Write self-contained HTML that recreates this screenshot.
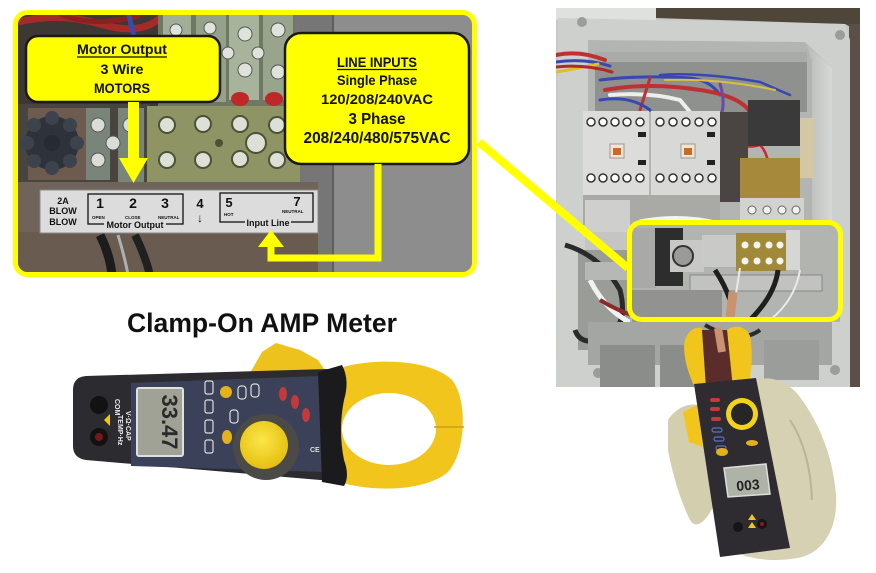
<!DOCTYPE html>
<html><head><meta charset="utf-8"><style>
html,body{margin:0;padding:0;background:#fff;}
svg{display:block;}
text{font-family:"Liberation Sans",sans-serif;font-weight:bold;}
</style></head><body>
<svg width="876" height="573" viewBox="0 0 876 573" xmlns="http://www.w3.org/2000/svg">
<defs>
<clipPath id="lp"><rect x="15" y="12" width="460" height="263" rx="12"/></clipPath>
<clipPath id="rp"><rect x="556" y="8" width="304" height="379"/></clipPath>
<radialGradient id="dialY" cx="0.45" cy="0.4" r="0.6"><stop offset="0" stop-color="#fbe64a"/><stop offset="1" stop-color="#e5c010"/></radialGradient>
<linearGradient id="wallR" x1="0" y1="0" x2="1" y2="0"><stop offset="0" stop-color="#b8bbb7"/><stop offset="1" stop-color="#d6d9d5"/></linearGradient>
</defs>
<rect width="876" height="573" fill="#fff"/>

<!-- ================= LEFT PANEL PHOTO ================= -->
<g clip-path="url(#lp)">
  <rect x="15" y="12" width="460" height="263" fill="#5a524a"/>
  <rect x="15" y="12" width="150" height="95" fill="#3d3834"/>
  <path d="M18 22 Q60 12 100 24 T160 18" stroke="#a52a2a" stroke-width="7" fill="none"/>
  <path d="M60 14 Q90 28 140 16" stroke="#8a2020" stroke-width="5" fill="none"/>
  <path d="M128 12 L134 36" stroke="#3a4aa8" stroke-width="5"/>
  <rect x="158" y="12" width="137" height="94" fill="#6f7863"/>
  <rect x="163" y="12" width="28" height="90" fill="#a3ae97"/>
  <rect x="196" y="12" width="30" height="90" fill="#95a189"/>
  <rect x="229" y="12" width="30" height="88" fill="#a7b39b"/>
  <rect x="263" y="12" width="30" height="88" fill="#98a48c"/>
  <g fill="#dfe3dc" stroke="#555" stroke-width="1">
    <circle cx="176" cy="30" r="6"/><circle cx="210" cy="28" r="6"/>
    <circle cx="245" cy="34" r="7"/><circle cx="278" cy="30" r="7"/>
    <circle cx="228" cy="53" r="6"/><circle cx="258" cy="53" r="6"/>
    <circle cx="245" cy="70" r="7"/><circle cx="278" cy="72" r="7"/>
  </g>
  <ellipse cx="240" cy="99" rx="9" ry="7" fill="#c02828"/>
  <ellipse cx="274" cy="99" rx="9" ry="7" fill="#c02828"/>
  <rect x="295" y="12" width="180" height="263" fill="#8d8d8d"/>
  <rect x="295" y="12" width="38" height="263" fill="#767676"/>
  <line x1="333" y1="12" x2="333" y2="275" stroke="#5e5e5e" stroke-width="2"/>
  <rect x="15" y="104" width="135" height="82" fill="#4a4440"/>
  <rect x="28" y="108" width="58" height="72" fill="#6d5b4f"/>
  <circle cx="52" cy="143" r="27" fill="#2e333b"/>
  <g fill="#3d434c">
    <circle cx="52" cy="118" r="7"/><circle cx="52" cy="168" r="7"/>
    <circle cx="27" cy="143" r="7"/><circle cx="77" cy="143" r="7"/>
    <circle cx="34" cy="125" r="7"/><circle cx="70" cy="125" r="7"/>
    <circle cx="34" cy="161" r="7"/><circle cx="70" cy="161" r="7"/>
  </g>
  <circle cx="52" cy="143" r="8" fill="#262a31"/>
  <rect x="86" y="108" width="24" height="72" fill="#7a857a"/>
  <rect x="118" y="108" width="26" height="74" fill="#7a857a"/>
  <g fill="#d9ddd6" stroke="#555" stroke-width="1">
    <circle cx="98" cy="125" r="7"/><circle cx="98" cy="160" r="7"/>
    <circle cx="113" cy="143" r="7"/><circle cx="130" cy="125" r="7"/>
  </g>
  <rect x="147" y="106" width="153" height="76" fill="#8e9463"/>
  <g fill="#dde0d6" stroke="#4d5236" stroke-width="2">
    <circle cx="167" cy="125" r="8"/><circle cx="203" cy="124" r="8"/><circle cx="240" cy="124" r="8"/><circle cx="277" cy="125" r="8"/>
    <circle cx="167" cy="160" r="8"/><circle cx="203" cy="160" r="8"/><circle cx="240" cy="159" r="8"/><circle cx="277" cy="160" r="8"/>
    <circle cx="256" cy="143" r="10"/>
  </g>
  <circle cx="219" cy="143" r="4" fill="#4d5236"/>
  <rect x="15" y="182" width="303" height="93" fill="#70645a"/>
  <rect x="15" y="232" width="303" height="43" fill="#695b50"/>
  <path d="M100 235 Q110 255 112 275" stroke="#1c1c1c" stroke-width="9" fill="none"/>
  <path d="M135 235 Q145 255 150 275" stroke="#202020" stroke-width="8" fill="none"/>
  <path d="M118 235 Q125 258 128 275" stroke="#b0b0b0" stroke-width="3" fill="none"/>
  <rect x="40" y="190" width="278" height="43" fill="#dcdcdc" stroke="#8a8a8a" stroke-width="1"/>
  <g fill="#111">
    <text x="63" y="204" font-size="9" text-anchor="middle">2A</text>
    <text x="63" y="214" font-size="9" text-anchor="middle">BLOW</text>
    <text x="63" y="225" font-size="9" text-anchor="middle">BLOW</text>
    <rect x="88" y="194" width="95" height="30" fill="none" stroke="#111" stroke-width="1.3"/>
    <text x="100" y="208" font-size="14" text-anchor="middle">1</text>
    <text x="133" y="208" font-size="14" text-anchor="middle">2</text>
    <text x="165" y="208" font-size="14" text-anchor="middle">3</text>
    <text x="92" y="219" font-size="4.5">OPEN</text>
    <text x="125" y="219" font-size="4.5">CLOSE</text>
    <text x="158" y="219" font-size="4.5">NEUTRAL</text>
    <rect x="104" y="220" width="62" height="8" fill="#dcdcdc"/>
    <text x="135" y="228" font-size="9" text-anchor="middle">Motor Output</text>
    <text x="200" y="208" font-size="13" text-anchor="middle">4</text>
    <text x="200" y="222" font-size="12" text-anchor="middle">↓</text>
    <rect x="220" y="193" width="93" height="29" fill="none" stroke="#111" stroke-width="1.3"/>
    <text x="229" y="207" font-size="13" text-anchor="middle">5</text>
    <text x="297" y="206" font-size="13" text-anchor="middle">7</text>
    <text x="224" y="216" font-size="4.5">HOT</text>
    <text x="282" y="213" font-size="4.5">NEUTRAL</text>
    <rect x="245" y="217" width="46" height="8" fill="#dcdcdc"/>
    <text x="268" y="226" font-size="9" text-anchor="middle">Input Line</text>
  </g>
</g>
<rect x="15.5" y="12.5" width="459" height="262" rx="12" fill="none" stroke="#ffff00" stroke-width="5"/>

<!-- Motor Output callout -->
<rect x="26" y="36" width="194" height="66" rx="12" fill="#ffff00" stroke="#1a1a1a" stroke-width="2.5"/>
<text x="122" y="54" font-size="14" text-anchor="middle" textLength="90" lengthAdjust="spacingAndGlyphs" fill="#111">Motor Output</text>
<line x1="77" y1="57" x2="167" y2="57" stroke="#111" stroke-width="1.2"/>
<text x="122" y="74" font-size="14" text-anchor="middle" textLength="43" lengthAdjust="spacingAndGlyphs" fill="#111">3 Wire</text>
<text x="122" y="93" font-size="14" text-anchor="middle" textLength="56" lengthAdjust="spacingAndGlyphs" fill="#111">MOTORS</text>

<rect x="128" y="102" width="11" height="58" fill="#ffff00"/>
<polygon points="119,158 148,158 133.5,183" fill="#ffff00"/>

<!-- Line Inputs callout -->
<rect x="285" y="33" width="184" height="131" rx="16" fill="#ffff00" stroke="#1a1a1a" stroke-width="2.5"/>
<g fill="#111">
<text x="377" y="67" font-size="14" text-anchor="middle" textLength="80" lengthAdjust="spacingAndGlyphs">LINE INPUTS</text>
<line x1="337" y1="69.5" x2="417" y2="69.5" stroke="#111" stroke-width="1.2"/>
<text x="377" y="85" font-size="14" text-anchor="middle" textLength="80" lengthAdjust="spacingAndGlyphs">Single Phase</text>
<text x="377" y="104" font-size="14" text-anchor="middle" textLength="112" lengthAdjust="spacingAndGlyphs">120/208/240VAC</text>
<text x="377" y="124" font-size="16" text-anchor="middle" textLength="57" lengthAdjust="spacingAndGlyphs">3 Phase</text>
<text x="377" y="143" font-size="16" text-anchor="middle" textLength="147" lengthAdjust="spacingAndGlyphs">208/240/480/575VAC</text>
</g>

<polyline points="378,164 378,258 271,258 271,244" fill="none" stroke="#ffff00" stroke-width="7"/>
<polygon points="258,247 284,247 271,230" fill="#ffff00"/>

<!-- ================= RIGHT ENCLOSURE PHOTO ================= -->
<g clip-path="url(#rp)">
  <rect x="556" y="8" width="304" height="379" fill="#c6c9c5"/>
  <polygon points="655,8 860,8 860,32 845,24 655,18" fill="#4f463a"/>
  <rect x="849" y="24" width="11" height="363" fill="#5a5048"/>
  <rect x="556" y="8" width="100" height="12" fill="#dfe1de"/>
  <path d="M558 18 L845 24 L850 40 L850 387 L556 387 Z" fill="#cdd0cc"/>
  <circle cx="582" cy="22" r="5" fill="#9a9d99"/><circle cx="840" cy="35" r="5" fill="#9a9d99"/>
  <circle cx="598" cy="373" r="5" fill="#9a9d99"/><circle cx="835" cy="370" r="5" fill="#9a9d99"/>
  <polygon points="588,40 805,42 832,68 832,365 588,365" fill="#b2b5b1"/>
  <polygon points="806,44 832,68 832,365 812,355 812,60" fill="url(#wallR)"/>
  <rect x="595" y="52" width="212" height="60" fill="#8f918e"/>
  <rect x="595" y="52" width="212" height="10" fill="#a9aba8"/>
  <g fill="none" stroke-linecap="round">
    <path d="M556 55 Q580 50 605 60" stroke="#c03030" stroke-width="4"/>
    <path d="M556 62 Q585 58 610 66" stroke="#3848b0" stroke-width="3"/>
    <path d="M556 72 Q580 68 598 64" stroke="#e0c020" stroke-width="3"/>
    <path d="M556 67 Q585 64 612 72" stroke="#b02828" stroke-width="3"/>
    <path d="M600 80 Q640 75 690 78 Q710 80 720 95" stroke="#3848b0" stroke-width="3"/>
    <path d="M605 90 Q650 82 700 90 Q740 96 750 112" stroke="#c03030" stroke-width="4"/>
    <path d="M610 95 Q650 92 680 100 L690 112" stroke="#eeeeee" stroke-width="4"/>
    <path d="M660 75 Q700 72 760 82 L790 95" stroke="#3848b0" stroke-width="2.5"/>
    <path d="M665 80 Q720 78 775 90" stroke="#d8c040" stroke-width="2"/>
    <path d="M650 78 L640 110" stroke="#c03030" stroke-width="3"/>
    <path d="M720 84 Q725 100 722 112" stroke="#6a4aa8" stroke-width="3"/>
    <path d="M600 100 Q630 95 650 110" stroke="#3848b0" stroke-width="3"/>
    <path d="M735 140 Q745 150 760 145 Q770 155 768 175" stroke="#c03030" stroke-width="2.5"/>
  </g>
  <rect x="583" y="111" width="66" height="84" fill="#dcdcda"/>
  <rect x="651" y="111" width="69" height="84" fill="#d8d8d6"/>
  <g fill="#fff" stroke="#333" stroke-width="1.5">
    <circle cx="591" cy="122" r="4"/><circle cx="603" cy="122" r="4"/><circle cx="615" cy="122" r="4"/><circle cx="627" cy="122" r="4"/><circle cx="640" cy="122" r="4"/>
    <circle cx="660" cy="122" r="4"/><circle cx="673" cy="122" r="4"/><circle cx="686" cy="122" r="4"/><circle cx="699" cy="122" r="4"/><circle cx="712" cy="122" r="4"/>
    <circle cx="591" cy="178" r="4"/><circle cx="603" cy="178" r="4"/><circle cx="615" cy="178" r="4"/><circle cx="627" cy="178" r="4"/><circle cx="640" cy="178" r="4"/>
    <circle cx="660" cy="178" r="4"/><circle cx="673" cy="178" r="4"/><circle cx="686" cy="178" r="4"/><circle cx="699" cy="178" r="4"/><circle cx="712" cy="178" r="4"/>
  </g>
  <rect x="610" y="144" width="14" height="14" fill="#f0e6d0" stroke="#999"/>
  <rect x="613" y="148" width="8" height="7" fill="#c86a2a"/>
  <rect x="681" y="144" width="14" height="14" fill="#f0e6d0" stroke="#999"/>
  <rect x="684" y="148" width="8" height="7" fill="#c86a2a"/>
  <rect x="638" y="132" width="8" height="5" fill="#222"/><rect x="638" y="160" width="8" height="5" fill="#222"/>
  <rect x="707" y="132" width="8" height="5" fill="#222"/><rect x="707" y="160" width="8" height="5" fill="#222"/>
  <rect x="720" y="112" width="28" height="90" fill="#4a4542"/>
  <rect x="748" y="100" width="52" height="46" fill="#3a3a3a"/>
  <rect x="800" y="118" width="14" height="60" fill="#d4c8a4"/>
  <rect x="740" y="158" width="60" height="46" fill="#a6893a"/>
  <rect x="740" y="198" width="64" height="32" fill="#d2d2ce"/>
  <g fill="#f2f2f2" stroke="#666" stroke-width="1">
    <circle cx="752" cy="210" r="4"/><circle cx="767" cy="210" r="4"/><circle cx="782" cy="210" r="4"/><circle cx="796" cy="210" r="4"/>
  </g>
  <rect x="583" y="195" width="137" height="30" fill="#a9aaa6"/>
  <rect x="585" y="200" width="45" height="35" fill="#cfcfcd"/>
  <path d="M640 222 Q680 214 720 224" stroke="#f4f4f4" stroke-width="5" fill="none"/>
  <rect x="585" y="232" width="42" height="20" fill="#c5c5c3"/>
  <rect x="578" y="250" width="53" height="100" fill="#9a9c98"/>
  <path d="M565 245 Q600 255 620 290 Q630 330 600 340 Q580 345 575 330" stroke="#2a2a2a" stroke-width="5" fill="none"/>
  <path d="M590 280 Q610 320 650 330 Q700 345 720 320" stroke="#f2f2f2" stroke-width="5" fill="none"/>
  <path d="M600 300 Q640 325 690 322" stroke="#8a2a2a" stroke-width="4" fill="none"/>
  <rect x="585" y="262" width="45" height="18" fill="#b7b8b5"/>
  <rect x="630" y="225" width="210" height="97" fill="#b2b4b0"/>
  <rect x="632" y="228" width="24" height="60" fill="#a9aaa7"/>
  <rect x="655" y="228" width="28" height="58" fill="#2d2d2d"/>
  <rect x="670" y="240" width="34" height="32" fill="#c8c8c6"/>
  <circle cx="683" cy="256" r="10" fill="#9a9a98" stroke="#333" stroke-width="2"/>
  <rect x="702" y="235" width="34" height="32" fill="#c9cac7"/>
  <rect x="736" y="233" width="50" height="38" fill="#a08a3a"/>
  <g fill="#f4f4f2">
    <circle cx="745" cy="245" r="3.5"/><circle cx="757" cy="245" r="3.5"/><circle cx="769" cy="245" r="3.5"/><circle cx="780" cy="245" r="3.5"/>
    <circle cx="745" cy="261" r="3.5"/><circle cx="757" cy="261" r="3.5"/><circle cx="769" cy="261" r="3.5"/><circle cx="780" cy="261" r="3.5"/>
  </g>
  <rect x="786" y="230" width="14" height="40" fill="#d6d6d4"/>
  <rect x="690" y="275" width="132" height="16" fill="#c2c2c0" stroke="#888" stroke-width="1"/>
  <rect x="632" y="290" width="90" height="32" fill="#929290"/>
  <path d="M715 270 Q725 285 730 300" stroke="#1e1e1e" stroke-width="5" fill="none"/>
  <path d="M778 270 Q775 295 750 320" stroke="#1e1e1e" stroke-width="5" fill="none"/>
  <path d="M800 270 Q795 300 770 320" stroke="#eaeaea" stroke-width="2" fill="none"/>
  <path d="M740 268 L735 300" stroke="#eaeaea" stroke-width="2" fill="none"/>
  <path d="M733 292 L727 345" stroke="#c99270" stroke-width="9" fill="none"/>
  <rect x="588" y="322" width="244" height="43" fill="#a3a6a2"/>
  <rect x="600" y="345" width="55" height="42" fill="#8a8d89"/>
  <rect x="660" y="345" width="55" height="42" fill="#8a8d89"/>
  <rect x="764" y="340" width="55" height="40" fill="#9a9d99"/>
  <path d="M705 325 Q740 345 760 330" stroke="#2a2a2a" stroke-width="4" fill="none"/>
</g>

<line x1="479" y1="142" x2="628" y2="268" stroke="#ffff00" stroke-width="8"/>
<rect x="629.5" y="222.5" width="211" height="97" rx="12" fill="none" stroke="#ffff00" stroke-width="5"/>

<!-- ================= HAND + METER ================= -->
<path d="M752 382 C770 372 792 384 802 400 C818 422 833 455 836 495 C838 525 826 550 802 557 C780 562 760 560 745 556 L725 548 Z" fill="#d5d1b2"/>
<path d="M668 420 C678 404 698 400 706 410 L714 505 C706 522 696 530 690 520 C680 500 672 472 668 450 Z" fill="#d3cfae"/>
<path d="M790 420 Q810 450 812 500" stroke="#b9b497" stroke-width="2" fill="none"/>
<path d="M684 345 C686 332 694 326 702 328 L707 360 L712 386 L697 392 C690 378 684 362 684 345 Z" fill="#f2c51c"/>
<path d="M727 330 C735 324 746 326 750 336 C753 350 752 372 748 388 L733 388 L730 360 Z" fill="#f2c51c"/>
<path d="M702 330 L727 330 L733 388 L706 388 Z" fill="#5a2c2a"/>
<path d="M718 328 L722 352" stroke="#c99270" stroke-width="8"/>
<path d="M694 384 L756 378 L790 548 L720 557 Z" fill="#2e2b31"/>
<polygon points="683,412 697,405 703,447 689,442" fill="#f2c51c"/>
<circle cx="742" cy="414" r="16" fill="#f2d21a"/>
<circle cx="742" cy="414" r="11" fill="#262626"/>
<g fill="#c23a3a"><rect x="710" y="398" width="10" height="4" rx="2"/><rect x="710" y="407" width="10" height="4" rx="2"/><rect x="711" y="417" width="10" height="4" rx="2"/></g>
<g fill="none" stroke="#5a72c8" stroke-width="1.2"><rect x="712" y="428" width="10" height="4" rx="2"/><rect x="714" y="437" width="10" height="4" rx="2"/><rect x="716" y="446" width="10" height="4" rx="2"/></g>
<ellipse cx="722" cy="452" rx="6" ry="4" fill="#e3b11c"/>
<ellipse cx="752" cy="443" rx="6" ry="3" fill="#e3b11c"/>
<polygon points="724,468 766,464 770,494 728,497" fill="#aeb3a8" stroke="#ddd" stroke-width="1.5"/>
<text x="748" y="490" font-size="14" text-anchor="middle" fill="#222" transform="rotate(-5 748 485)">003</text>
<circle cx="738" cy="527" r="5" fill="#151515"/>
<circle cx="762" cy="524" r="5" fill="#151515"/><circle cx="762" cy="524" r="2" fill="#8a1a1a"/>
<polygon points="748,520 752,514 756,520" fill="#f2c51c"/>
<polygon points="748,528 752,522 756,528" fill="#f2c51c"/>

<!-- ================= LEFT CLAMP METER ================= -->
<text x="127" y="332" font-size="27" textLength="270" lengthAdjust="spacingAndGlyphs" fill="#111">Clamp-On AMP Meter</text>
<polygon points="250,373 262,352 276,343 300,350 318,360 326,372" fill="#eec21c"/>
<path d="M86 376 L328 369 L332 481 L86 460 Q73 458 73 446 L73 390 Q73 377 86 376 Z" fill="#2c2b30"/>
<path d="M131 383 L320 376 L322 472 L131 466 Z" fill="#3b4159"/>
<path d="M340 368 C370 358 430 358 452 380 C468 400 466 452 448 472 C425 492 370 492 340 482 Z" fill="#f1c51c"/>
<ellipse cx="389" cy="429" rx="47" ry="36" fill="#fff"/>
<line x1="434" y1="427" x2="464" y2="427" stroke="#c9a21a" stroke-width="1.5"/>
<path d="M318 372 L342 365 Q350 380 344 400 Q338 430 344 460 Q350 476 344 486 L322 482 Z" fill="#1b1b1d"/>
<rect x="137" y="388" width="46" height="68" fill="#9fa294" stroke="#e0e0e0" stroke-width="2" rx="2"/>
<text x="160" y="420" font-size="22" fill="#2a2a2a" text-anchor="middle" transform="rotate(90 160 422)">33.47</text>
<circle cx="266" cy="447" r="33" fill="#4b4a46"/>
<circle cx="264" cy="445" r="24" fill="url(#dialY)"/>
<circle cx="99" cy="405" r="9" fill="#121212"/>
<circle cx="99" cy="437" r="9" fill="#121212"/><circle cx="99" cy="437" r="4" fill="#7a1818"/>
<polygon points="104,420 110,414 110,426" fill="#f2c51c"/>
<text x="115" y="399" font-size="7" fill="#eee" transform="rotate(90 115 399)">COM</text>
<text x="126" y="411" font-size="7" fill="#eee" transform="rotate(90 126 411)">V·Ω·CAP</text>
<text x="118" y="415" font-size="7" fill="#eee" transform="rotate(90 118 415)">TEMP·Hz</text>
<g fill="none" stroke="#ddd" stroke-width="1.2">
  <rect x="205" y="381" width="8" height="13" rx="2"/><rect x="205" y="400" width="8" height="13" rx="2"/>
  <rect x="205" y="420" width="8" height="13" rx="2"/><rect x="205" y="440" width="8" height="13" rx="2"/>
  <rect x="238" y="386" width="8" height="13" rx="3"/><rect x="251" y="384" width="8" height="13" rx="3"/>
  <rect x="230" y="410" width="8" height="13" rx="3"/>
</g>
<circle cx="226" cy="392" r="6" fill="#e3b11c"/>
<ellipse cx="227" cy="437" rx="5" ry="7" fill="#e3b11c"/>
<g fill="#c23a3a"><ellipse cx="283" cy="394" rx="4" ry="7"/><ellipse cx="295" cy="402" rx="4" ry="7"/><ellipse cx="306" cy="415" rx="4" ry="7"/></g>
<text x="310" y="452" font-size="7" fill="#ddd">CE</text>
</svg>
</body></html>
